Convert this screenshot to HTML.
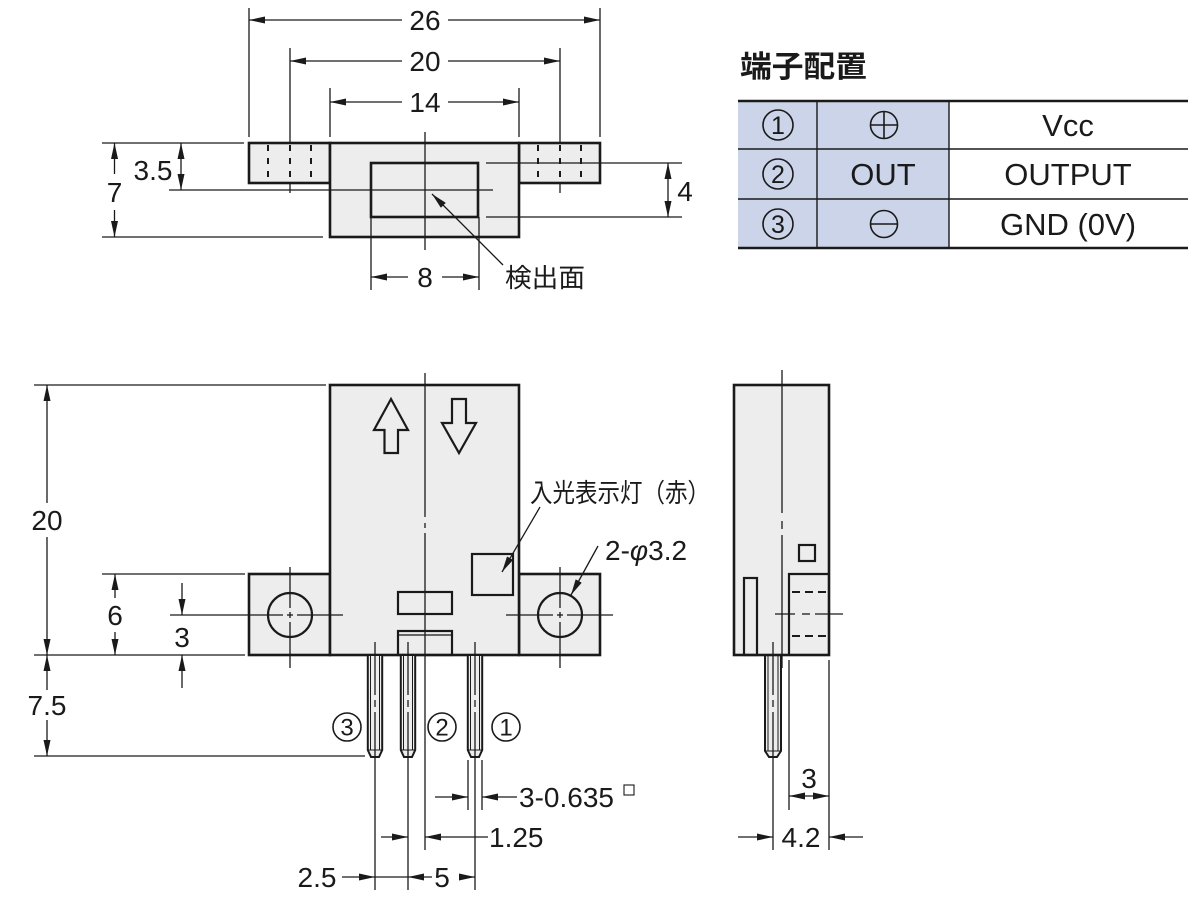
<!DOCTYPE html>
<html><head><meta charset="utf-8"><style>
html,body{margin:0;padding:0;background:#fff;}
svg{display:block;}
.n{font-family:"Liberation Sans","Noto Sans CJK JP",sans-serif;font-size:28px;fill:#1a1a1a;}
.j{font-family:"Liberation Sans","Noto Sans CJK JP",sans-serif;font-size:26px;fill:#1a1a1a;}
.t{font-family:"Liberation Sans","Noto Sans CJK JP",sans-serif;font-size:31px;fill:#1a1a1a;}
.c{font-family:"Liberation Sans",sans-serif;font-size:25px;fill:#1a1a1a;}
.cp{font-family:"Liberation Sans",sans-serif;font-size:24px;fill:#1a1a1a;}
</style></head><body>
<svg width="1200" height="900" viewBox="0 0 1200 900" xmlns="http://www.w3.org/2000/svg">
<defs>
<marker id="a" viewBox="0 0 16 7" refX="16" refY="3.5" markerWidth="16" markerHeight="7" markerUnits="userSpaceOnUse" orient="auto"><path d="M0,0L16,3.5L0,7z" fill="#1a1a1a"/></marker>
</defs>

<!-- ===== TOP VIEW ===== -->
<g fill="#ededed" stroke="#1a1a1a" stroke-width="2.6">
<rect x="249" y="143" width="81" height="40"/>
<rect x="519" y="143" width="81" height="40"/>
<rect x="330" y="143" width="189" height="94"/>
<rect x="371" y="163" width="107" height="54" fill="none"/>
</g>
<g stroke="#1a1a1a" stroke-width="2" stroke-dasharray="6,7">
<line x1="268" y1="145" x2="268" y2="183"/><line x1="290" y1="145" x2="290" y2="183"/><line x1="311" y1="145" x2="311" y2="183"/>
<line x1="538" y1="145" x2="538" y2="183"/><line x1="560" y1="145" x2="560" y2="183"/><line x1="581" y1="145" x2="581" y2="183"/>
</g>
<g stroke="#1a1a1a" stroke-width="1.3" fill="none">
<line x1="249" y1="8" x2="249" y2="137"/><line x1="600" y1="8" x2="600" y2="137"/>
<line x1="290" y1="48" x2="290" y2="143"/><line x1="560" y1="48" x2="560" y2="143"/>
<line x1="290" y1="183" x2="290" y2="193"/><line x1="560" y1="183" x2="560" y2="193"/>
<line x1="330" y1="88" x2="330" y2="137"/><line x1="519" y1="88" x2="519" y2="137"/>
<line x1="102" y1="143" x2="244" y2="143"/>
<line x1="102" y1="237" x2="323" y2="237"/>
<line x1="169" y1="190" x2="493" y2="190"/>
<line x1="425" y1="132" x2="425" y2="250"/>
<line x1="486" y1="163" x2="682" y2="163"/><line x1="486" y1="217" x2="682" y2="217"/>
<line x1="371" y1="217" x2="371" y2="290"/><line x1="479" y1="217" x2="479" y2="290"/>
<line x1="402" y1="20" x2="249" y2="20" marker-end="url(#a)"/><line x1="448" y1="20" x2="600" y2="20" marker-end="url(#a)"/>
<line x1="402" y1="61" x2="290" y2="61" marker-end="url(#a)"/><line x1="448" y1="61" x2="560" y2="61" marker-end="url(#a)"/>
<line x1="402" y1="102" x2="330" y2="102" marker-end="url(#a)"/><line x1="448" y1="102" x2="519" y2="102" marker-end="url(#a)"/>
<line x1="114.5" y1="174" x2="114.5" y2="143" marker-end="url(#a)"/><line x1="114.5" y1="210" x2="114.5" y2="237" marker-end="url(#a)"/>
<line x1="181" y1="166" x2="181" y2="143" marker-end="url(#a)"/><line x1="181" y1="166" x2="181" y2="190" marker-end="url(#a)"/>
<line x1="668" y1="190" x2="668" y2="163" marker-end="url(#a)"/><line x1="668" y1="190" x2="668" y2="217" marker-end="url(#a)"/>
<line x1="408" y1="277" x2="371" y2="277" marker-end="url(#a)"/><line x1="442" y1="277" x2="479" y2="277" marker-end="url(#a)"/>
<line x1="503" y1="265" x2="432" y2="194" marker-end="url(#a)"/>
</g>
<text class="n" x="425" y="30" text-anchor="middle">26</text>
<text class="n" x="425" y="71" text-anchor="middle">20</text>
<text class="n" x="425" y="112" text-anchor="middle">14</text>
<text class="n" x="114.5" y="202" text-anchor="middle">7</text>
<text class="n" x="153" y="180" text-anchor="middle">3.5</text>
<text class="n" x="685" y="201" text-anchor="middle">4</text>
<text class="n" x="425" y="287" text-anchor="middle">8</text>
<text class="j" x="505" y="287" textLength="80" lengthAdjust="spacingAndGlyphs">検出面</text>

<!-- ===== TABLE ===== -->
<text x="740" y="77" style="font-family:'Liberation Sans','Noto Sans CJK JP',sans-serif;font-size:30px;font-weight:bold;fill:#1a1a1a" textLength="127" lengthAdjust="spacingAndGlyphs">端子配置</text>
<rect x="738" y="101" width="211" height="147" fill="#cbd4e8"/>
<g stroke="#1a1a1a">
<line x1="738" y1="101" x2="1188" y2="101" stroke-width="2.4"/>
<line x1="738" y1="149" x2="1188" y2="149" stroke-width="1.4"/>
<line x1="738" y1="199" x2="1188" y2="199" stroke-width="1.4"/>
<line x1="738" y1="248" x2="1188" y2="248" stroke-width="2.4"/>
<line x1="817" y1="101" x2="817" y2="248" stroke-width="1.4"/>
<line x1="949" y1="101" x2="949" y2="248" stroke-width="1.4"/>
</g>
<g fill="none" stroke="#1a1a1a" stroke-width="1.6">
<circle cx="778" cy="125" r="15"/><circle cx="778" cy="174" r="15"/><circle cx="778" cy="224" r="15"/>
<circle cx="884" cy="125" r="13.5"/><line x1="870.5" y1="125" x2="897.5" y2="125"/><line x1="884" y1="111.5" x2="884" y2="138.5"/>
<circle cx="884" cy="224" r="13.5"/><line x1="870.5" y1="224" x2="897.5" y2="224"/>
</g>
<text class="c" x="778" y="134" text-anchor="middle">1</text>
<text class="c" x="778" y="183" text-anchor="middle">2</text>
<text class="c" x="778" y="233" text-anchor="middle">3</text>
<text class="t" x="883" y="185" text-anchor="middle">OUT</text>
<text class="t" x="1068" y="136" text-anchor="middle">Vcc</text>
<text class="t" x="1068" y="185" text-anchor="middle">OUTPUT</text>
<text class="t" x="1068" y="235" text-anchor="middle" style="font-family:'Liberation Sans',sans-serif">GND (0V)</text>

<!-- ===== FRONT VIEW ===== -->
<g fill="#ededed" stroke="#1a1a1a" stroke-width="2.6">
<rect x="249" y="574" width="81" height="81"/>
<rect x="519" y="574" width="81" height="81"/>
<rect x="330" y="385" width="189" height="270"/>
</g>
<g fill="none" stroke="#1a1a1a" stroke-width="2.2">
<polygon points="391,399 408,430 398,430 398,453 384.5,453 384.5,430 374,430"/>
<polygon points="452,399 466,399 466,423 476,423 459,453 442,423 452,423"/>
<rect x="472" y="554" width="41" height="41"/>
<rect x="398" y="592" width="54" height="22"/>
<rect x="398" y="631" width="54" height="24"/>
<circle cx="290" cy="615" r="22"/>
<circle cx="560" cy="615" r="22"/>
</g>
<g fill="#ededed" stroke="#1a1a1a" stroke-width="2">
<polygon points="367.8,655 367.8,750 371,757 379,757 382.2,750 382.2,655"/>
<polygon points="400.8,655 400.8,750 404,757 412,757 415.2,750 415.2,655"/>
<polygon points="467.8,655 467.8,750 471,757 479,757 482.2,750 482.2,655"/>
<polygon points="765,655 765,751 769,757 777,757 781,751 781,655"/>
</g>
<g stroke="#1a1a1a" stroke-width="1" fill="none">
<line x1="370.5" y1="655" x2="370.5" y2="750"/><line x1="379.5" y1="655" x2="379.5" y2="750"/><line x1="368" y1="750" x2="382" y2="750"/>
<line x1="403.5" y1="655" x2="403.5" y2="750"/><line x1="412.5" y1="655" x2="412.5" y2="750"/><line x1="401" y1="750" x2="415" y2="750"/>
<line x1="470.5" y1="655" x2="470.5" y2="750"/><line x1="479.5" y1="655" x2="479.5" y2="750"/><line x1="468" y1="750" x2="482" y2="750"/>
<line x1="768" y1="655" x2="768" y2="751"/><line x1="778" y1="655" x2="778" y2="751"/><line x1="765" y1="751" x2="781" y2="751"/>
<line x1="398" y1="635" x2="452" y2="635" stroke-width="1.3"/>
</g>
<g stroke="#1a1a1a" stroke-width="1.3" fill="none">
<line x1="425" y1="373" x2="425" y2="517"/><line x1="425" y1="523" x2="425" y2="528"/><line x1="425" y1="533" x2="425" y2="850"/>
<line x1="170" y1="615" x2="283" y2="615"/><line x1="287" y1="615" x2="293" y2="615"/><line x1="297" y1="615" x2="343" y2="615"/>
<line x1="290" y1="567" x2="290" y2="608"/><line x1="290" y1="612" x2="290" y2="618"/><line x1="290" y1="622" x2="290" y2="668"/>
<line x1="506" y1="615" x2="553" y2="615"/><line x1="557" y1="615" x2="563" y2="615"/><line x1="567" y1="615" x2="613" y2="615"/>
<line x1="560" y1="567" x2="560" y2="608"/><line x1="560" y1="612" x2="560" y2="618"/><line x1="560" y1="622" x2="560" y2="668"/>
<line x1="375" y1="642" x2="375" y2="695"/><line x1="375" y1="700" x2="375" y2="707"/><line x1="375" y1="712" x2="375" y2="890"/>
<line x1="408" y1="642" x2="408" y2="695"/><line x1="408" y1="700" x2="408" y2="707"/><line x1="408" y1="712" x2="408" y2="890"/>
<line x1="475" y1="642" x2="475" y2="695"/><line x1="475" y1="700" x2="475" y2="707"/><line x1="475" y1="712" x2="475" y2="890"/>
<line x1="34" y1="385" x2="326" y2="385"/>
<line x1="34" y1="655" x2="245" y2="655"/>
<line x1="102" y1="574" x2="245" y2="574"/>
<line x1="34" y1="756" x2="365" y2="756"/>
<line x1="468" y1="760" x2="468" y2="810"/><line x1="482" y1="760" x2="482" y2="810"/>
<line x1="47" y1="503" x2="47" y2="385" marker-end="url(#a)"/><line x1="47" y1="537" x2="47" y2="655" marker-end="url(#a)"/>
<line x1="115" y1="598" x2="115" y2="574" marker-end="url(#a)"/><line x1="115" y1="632" x2="115" y2="655" marker-end="url(#a)"/>
<line x1="182" y1="583" x2="182" y2="615" marker-end="url(#a)"/><line x1="182" y1="688" x2="182" y2="655" marker-end="url(#a)"/>
<line x1="47" y1="690" x2="47" y2="655" marker-end="url(#a)"/><line x1="47" y1="720" x2="47" y2="756" marker-end="url(#a)"/>
<line x1="435" y1="797" x2="468" y2="797" marker-end="url(#a)"/><line x1="517" y1="797" x2="482" y2="797" marker-end="url(#a)"/>
<line x1="381" y1="837" x2="408" y2="837" marker-end="url(#a)"/><line x1="488" y1="837" x2="425" y2="837" marker-end="url(#a)"/>
<line x1="342" y1="877" x2="375" y2="877" marker-end="url(#a)"/><line x1="375" y1="877" x2="408" y2="877"/>
<line x1="432" y1="877" x2="408" y2="877" marker-end="url(#a)"/><line x1="460" y1="877" x2="475" y2="877" marker-end="url(#a)"/>
<line x1="540" y1="507" x2="502" y2="572" marker-end="url(#a)"/>
<line x1="598" y1="546" x2="571" y2="595" marker-end="url(#a)"/>
<circle cx="347" cy="727" r="14" stroke-width="1.6"/>
<circle cx="442" cy="727" r="14" stroke-width="1.6"/>
<circle cx="506" cy="727" r="14" stroke-width="1.6"/>
<rect x="624" y="785" width="10" height="10" stroke-width="1.1"/>
</g>
<text class="cp" x="347" y="735.5" text-anchor="middle">3</text>
<text class="cp" x="442" y="735.5" text-anchor="middle">2</text>
<text class="cp" x="506" y="735.5" text-anchor="middle">1</text>
<text class="n" x="47" y="530" text-anchor="middle">20</text>
<text class="n" x="115" y="625" text-anchor="middle">6</text>
<text class="n" x="182" y="647" text-anchor="middle">3</text>
<text class="n" x="47" y="715" text-anchor="middle">7.5</text>
<text class="j" x="530" y="502" textLength="180" lengthAdjust="spacingAndGlyphs">入光表示灯（赤）</text>
<text class="n" x="605" y="560">2-<tspan font-style="italic">φ</tspan>3.2</text>
<text class="n" x="519" y="807">3-0.635</text>
<text class="n" x="489" y="847">1.25</text>
<text class="n" x="317" y="887" text-anchor="middle">2.5</text>
<text class="n" x="442" y="887" text-anchor="middle">5</text>

<!-- ===== SIDE VIEW ===== -->
<rect x="734" y="385" width="95" height="270" fill="#ededed" stroke="#1a1a1a" stroke-width="2.6"/>
<g fill="none" stroke="#1a1a1a" stroke-width="2.2">
<rect x="799" y="545" width="16" height="16"/>
<polyline points="789,655 789,574 829,574"/>
<rect x="744" y="578" width="13" height="77"/>
</g>
<g stroke="#1a1a1a" stroke-width="2" stroke-dasharray="8,5">
<line x1="792" y1="592" x2="827" y2="592"/>
<line x1="792" y1="636" x2="827" y2="636"/>
</g>
<g stroke="#1a1a1a" stroke-width="1.3" fill="none">
<line x1="782" y1="370" x2="782" y2="513"/><line x1="782" y1="521" x2="782" y2="529"/><line x1="782" y1="535" x2="782" y2="668"/>
<line x1="775" y1="614" x2="795" y2="614"/><line x1="802" y1="614" x2="810" y2="614"/><line x1="815" y1="614" x2="843" y2="614"/>
<line x1="773" y1="642" x2="773" y2="695"/><line x1="773" y1="700" x2="773" y2="707"/><line x1="773" y1="712" x2="773" y2="850"/>
<line x1="789" y1="660" x2="789" y2="810"/>
<line x1="829" y1="660" x2="829" y2="850"/>
<line x1="809" y1="796" x2="789" y2="796" marker-end="url(#a)"/><line x1="809" y1="796" x2="829" y2="796" marker-end="url(#a)"/>
<line x1="738" y1="837" x2="773" y2="837" marker-end="url(#a)"/><line x1="863" y1="837" x2="829" y2="837" marker-end="url(#a)"/>
</g>
<text class="n" x="809" y="788" text-anchor="middle">3</text>
<text class="n" x="801" y="847" text-anchor="middle">4.2</text>
</svg>
</body></html>
